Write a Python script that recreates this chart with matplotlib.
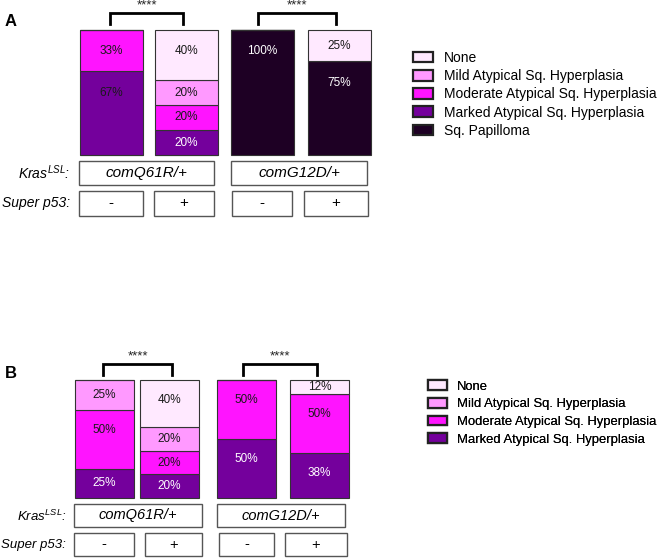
import matplotlib
matplotlib.use("Agg")
import matplotlib.pyplot as plt
from matplotlib.patches import Rectangle, Patch

plt.rcParams["font.family"] = ["Liberation Sans", "DejaVu Sans"]
plt.rcParams["mathtext.fontset"] = "custom"
plt.rcParams["mathtext.it"] = "Liberation Sans:italic"
plt.rcParams["mathtext.rm"] = "Liberation Sans"

categories = ["None", "Mild Atypical Sq. Hyperplasia", "Moderate Atypical Sq. Hyperplasia",
              "Marked Atypical Sq. Hyperplasia", "Sq. Papilloma"]
colors = ["#FFE9FF", "#FF99FF", "#FF14FF", "#74009C", "#1E0024"]

kras_labels = ["comQ61R/+", "comG12D/+"]
p53_labels = ["-", "+", "-", "+"]

# panel A, percent of mice per group (4 groups)
a_none = [0, 40, 0, 25]
a_mild = [0, 20, 0, 0]
a_moderate = [33, 20, 0, 0]
a_marked = [67, 20, 0, 0]
a_papilloma = [0, 0, 100, 75]

# panel B
b_none = [0, 40, 0, 12]
b_mild = [25, 20, 0, 0]
b_moderate = [50, 20, 50, 50]
b_marked = [25, 20, 50, 38]

W, H = 661, 558
fig = plt.figure(figsize=(W / 100, H / 100), dpi=100)

ov = fig.add_axes([0, 0, 1, 1])
ov.set_xlim(0, W)
ov.set_ylim(H, 0)
ov.axis("off")


def draw_panel(series, cat_idx, bar_x, bar_w, top, bottom, dark_text=()):
    ax = fig.add_axes([0, 1 - bottom / H, 1, (bottom - top) / H])
    ax.set_xlim(0, W)
    ax.set_ylim(0, 100)
    ax.axis("off")
    base = [0] * len(bar_x)
    # stack from the most severe (bottom) to none (top)
    for vals, ci in reversed(list(zip(series, cat_idx))):
        ax.bar(bar_x, vals, bar_w, bottom=base, color=colors[ci],
               edgecolor="#333333", linewidth=0.8, clip_on=False)
        for i, v in enumerate(vals):
            if v == 0:
                continue
            seg_top = base[i] + v
            y = seg_top - min(v / 2, 17)
            tc = "white" if ci >= 3 and (i, ci) not in dark_text else "#1a1a1a"
            ax.text(bar_x[i], y, f"{v}%", ha="center", va="center",
                    fontsize=8.5, color=tc)
        base = [b + v for b, v in zip(base, vals)]
    return ax


def bracket(x0, x1, ytop, ybot):
    ov.plot([x0, x0, x1, x1], [ybot, ytop, ytop, ybot], color="black", lw=2,
            solid_joinstyle="miter")
    ov.text((x0 + x1) / 2, ytop - 8, "****", ha="center", va="center", fontsize=9.5,
            color="#222222")


def box(x, y, w, h, label, italic=False, size=11):
    ov.add_patch(Rectangle((x, y), w, h, facecolor="white", edgecolor="#555555", lw=1))
    ov.text(x + w / 2, y + h / 2, label, ha="center", va="center", fontsize=size,
            style="italic" if italic else "normal")


def legend(n, x, y, size, spacing, hlen):
    handles = [Patch(facecolor=colors[i], edgecolor="#222222", linewidth=1.6) for i in range(n)]
    leg = ov.legend(handles, categories[:n], loc="upper left", bbox_to_anchor=(x, y),
                    bbox_transform=ov.transData, frameon=False, fontsize=size,
                    borderpad=0, borderaxespad=0, handlelength=hlen, handleheight=0.8,
                    handletextpad=0.75, labelspacing=spacing)
    ov.add_artist(leg)


# ---- panel A
draw_panel([a_none, a_mild, a_moderate, a_marked, a_papilloma], [0, 1, 2, 3, 4],
           [111.5, 186.5, 262.5, 339.5], 63, 30, 155, dark_text={(0, 3)})
ov.text(5, 22, "A", fontsize=12, fontweight="bold", va="center")
bracket(110, 183, 13, 24)
bracket(258, 336, 13, 24)
box(79, 161, 135, 24, kras_labels[0], italic=True)
box(231, 161, 136, 24, kras_labels[1], italic=True)
for (x, w), lab in zip([(79, 64), (154, 60), (232, 60), (304, 64)], p53_labels):
    box(x, 191, w, 25, lab)
ov.text(70, 173, r"$Kras^{LSL}$:", ha="right", va="center", fontsize=10, style="italic")
ov.text(70, 203, "Super p53:", ha="right", va="center", fontsize=10, style="italic")
legend(5, 413, 51, 10, 0.3, 1.45)

# ---- panel B
draw_panel([b_none, b_mild, b_moderate, b_marked], [0, 1, 2, 3],
           [104.5, 169, 246.5, 319.5], 59, 380, 498)
ov.text(5, 373, "B", fontsize=12, fontweight="bold", va="center")
bracket(103, 172, 364, 375)
bracket(243, 317, 364, 375)
box(74, 504, 128, 23, kras_labels[0], italic=True, size=10.5)
box(217, 504, 128, 23, kras_labels[1], italic=True, size=10.5)
for (x, w), lab in zip([(74, 60), (145, 57), (219, 55), (285, 62)], p53_labels):
    box(x, 533, w, 23, lab, size=10.5)
ov.text(67, 516, r"$Kras^{LSL}$:", ha="right", va="center", fontsize=9.5, style="italic")
ov.text(66, 545, "Super p53:", ha="right", va="center", fontsize=9.5, style="italic")
legend(4, 428, 380, 9.4, 0.4, 1.45)

fig.savefig("out.png", dpi=100)
